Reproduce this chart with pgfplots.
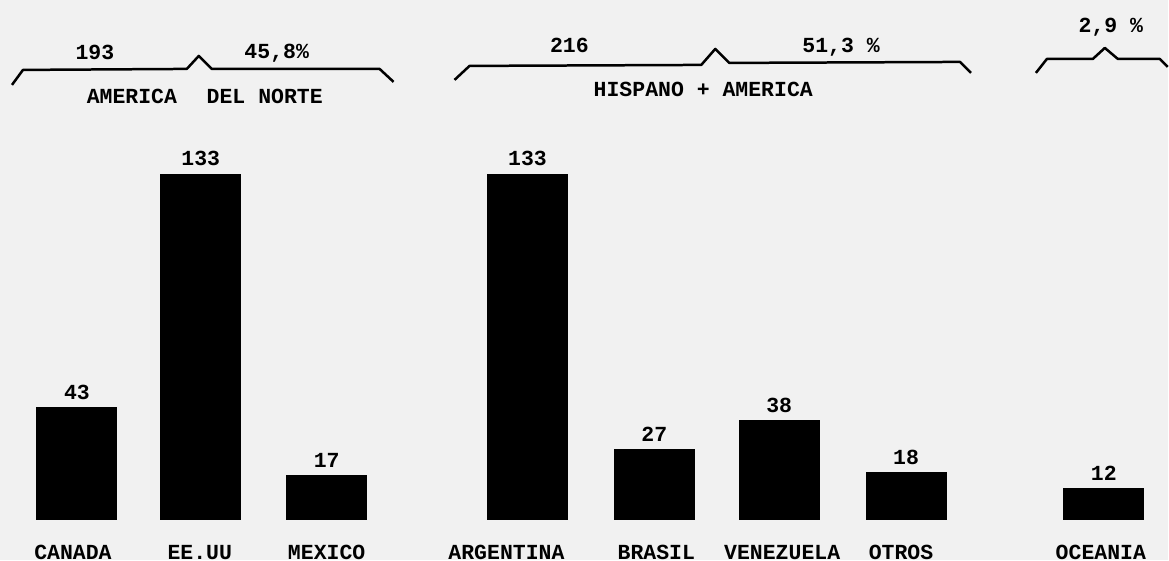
\documentclass[border=0pt]{standalone}
\usepackage{fontspec}
\setmainfont{Liberation Mono}
\usepackage{pgfplots}
\pgfplotsset{compat=1.18}
\definecolor{paper}{RGB}{241,241,241}
\begin{document}
\begin{tikzpicture}[font=\fontsize{8.6pt}{10pt}\selectfont\bfseries]
\fill[paper] (0,0) rectangle (467.6pt,224.4pt);
\begin{axis}[at={(0,0)}, anchor=south west, scale only axis,
  width=467.6pt, height=224.4pt,
  xmin=0, xmax=1169, ymin=-15.77, ymax=200, enlargelimits=false,
  axis lines=none, clip=false,
  /pgf/number format/assume math mode=true,
  ybar, bar width=80,
  nodes near coords,
  every node near coord/.append style={inner sep=0pt, anchor=south, yshift=3pt, text=black, font=\fontsize{8.6pt}{10pt}\selectfont\bfseries}]
\addplot[fill=black, draw=black] coordinates {
  (77,43) (201,133) (327,17) (528,133) (655,27) (780,38) (907,18) (1105,12)};
\end{axis}
\begin{scope}[shift={(0,224.4pt)}, x=0.4pt, y=-0.4pt, every node/.style={inner sep=0pt}]
\draw[line width=1pt, line join=round] (12,85) -- (23,70) -- (187,69) -- (199,56) -- (212,69) -- (380,69) -- (394,82);
\draw[line width=1pt, line join=round] (455,80) -- (470,66) -- (702,65) -- (716,49) -- (730,63) -- (961,62) -- (972,73);
\draw[line width=1pt, line join=round] (1037,73) -- (1048,59) -- (1094,59) -- (1106,48) -- (1119,59) -- (1161,59) -- (1169,67);
\node at (95,53) {193};
\node at (277,53) {45,8\%};
\node at (570,45) {216};
\node at (842,47) {51,3 \%};
\node at (1112,27) {2,9 \%};
\node at (132,97) {AMERICA};
\node at (265,97) {DEL NORTE};
\node at (704,90) {HISPANO + AMERICA};
\node at (73,553) {CANADA};
\node at (200,553) {EE.UU};
\node at (327,553) {MEXICO};
\node at (507,553) {ARGENTINA};
\node at (657,553) {BRASIL};
\node at (783,553) {VENEZUELA};
\node at (902,553) {OTROS};
\node at (1102,553) {OCEANIA};
\end{scope}
\end{tikzpicture}
\end{document}
